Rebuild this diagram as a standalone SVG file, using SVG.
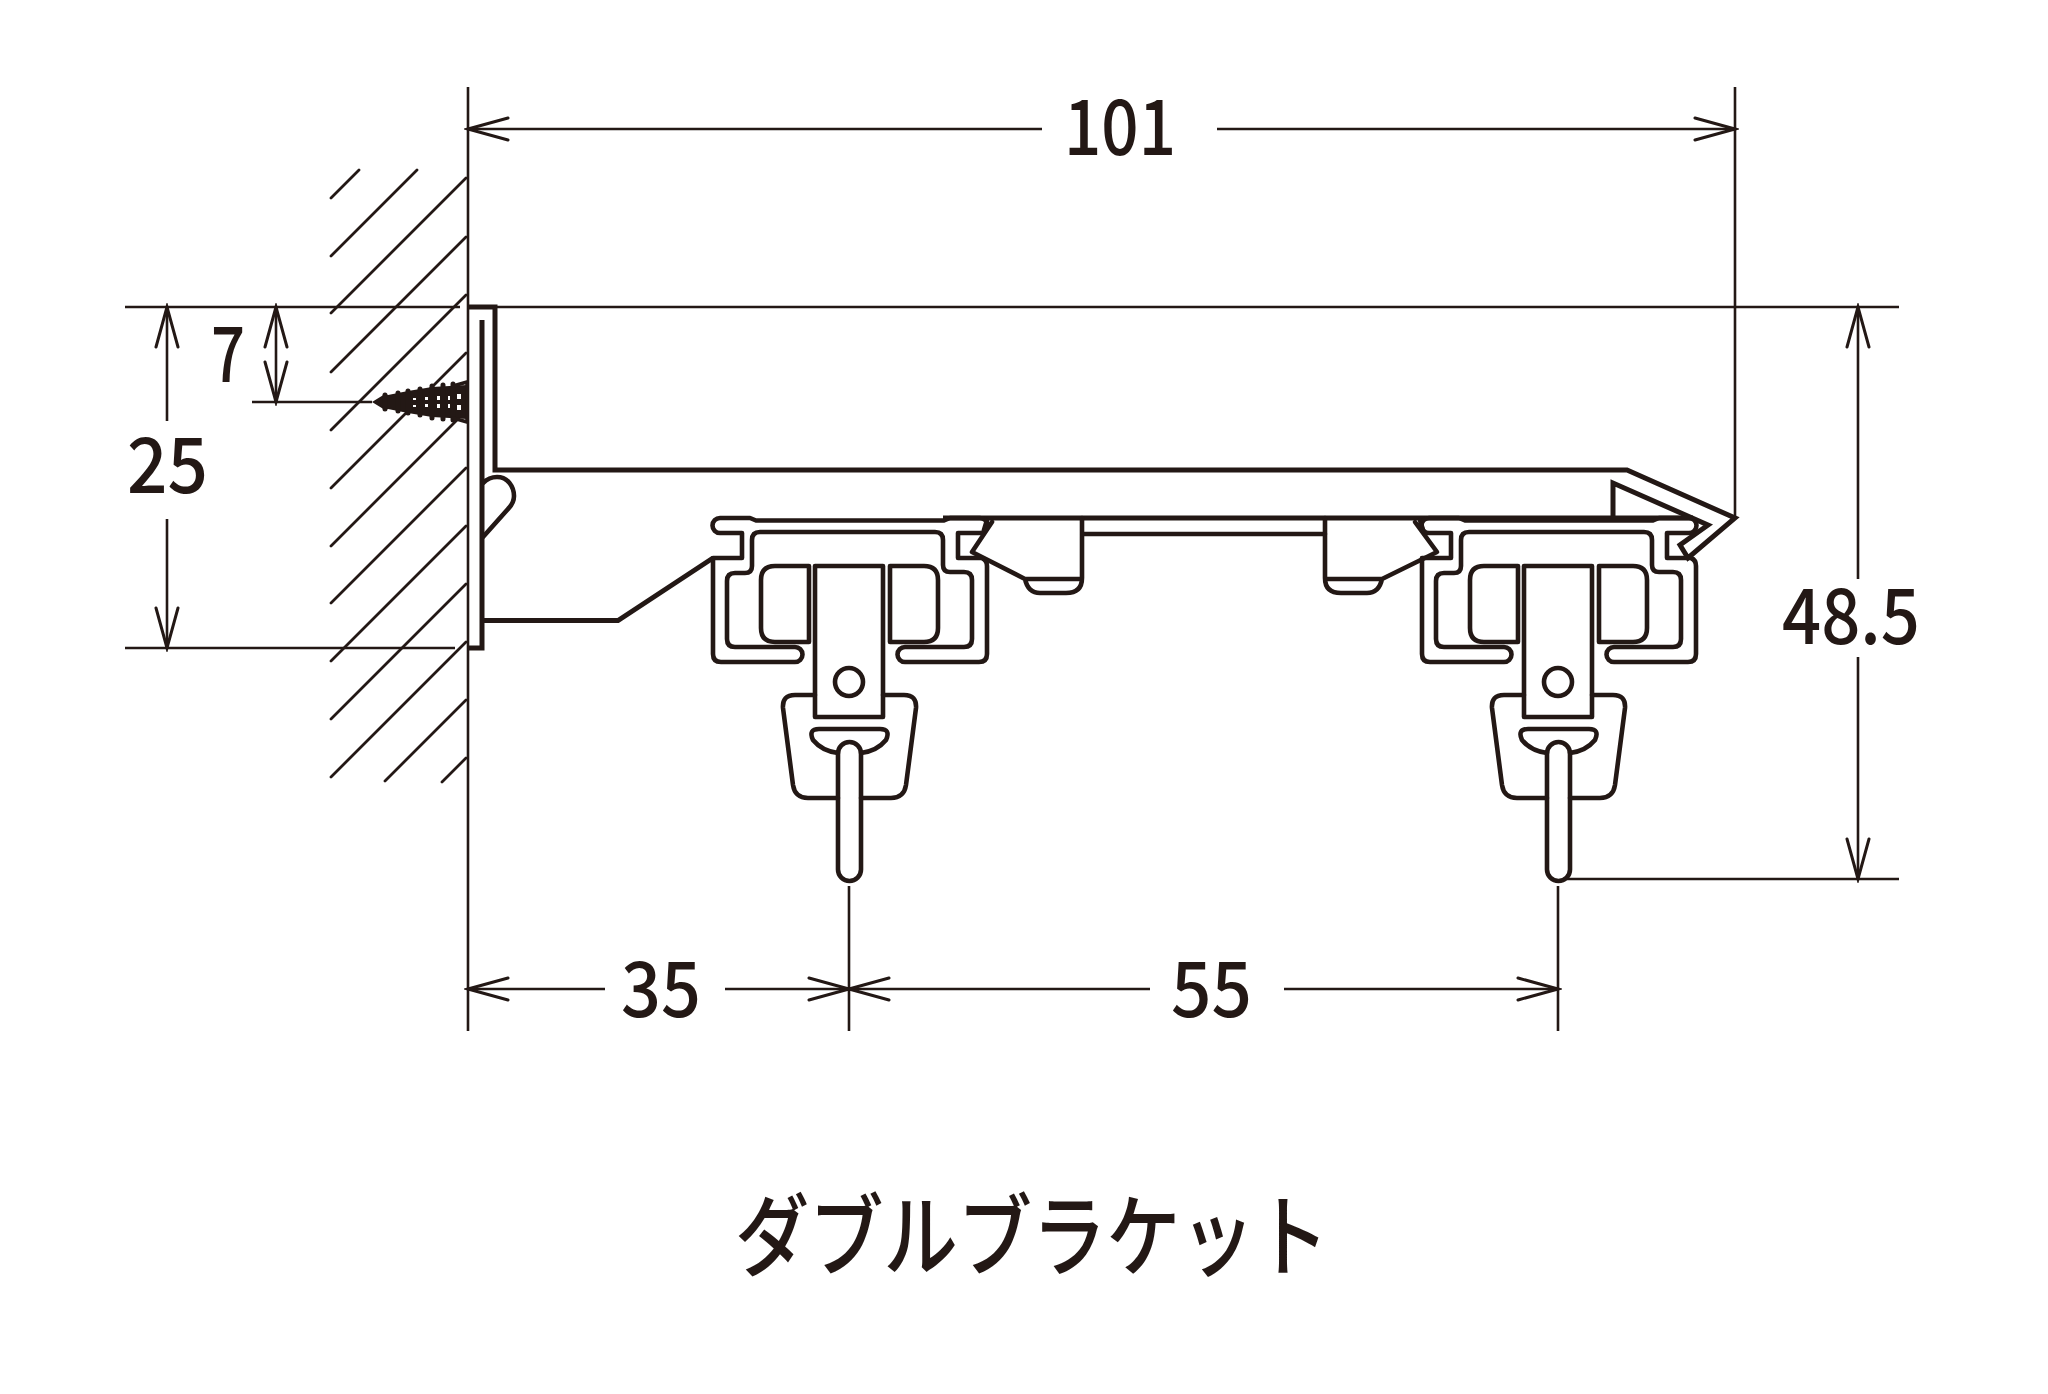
<svg xmlns="http://www.w3.org/2000/svg" xmlns:xlink="http://www.w3.org/1999/xlink" width="2048" height="1394" viewBox="0 0 2048 1394">
<style>
.bg{fill:#fff}
.t{font-family:"Noto Sans CJK JP","Liberation Sans",sans-serif;fill:#231815;text-anchor:start;font-weight:500}
.d{fill:none;stroke:#231815;stroke-width:2.6}
.a{marker-start:url(#arr);marker-end:url(#arr)}
.h{fill:none;stroke:#231815;stroke-width:2.8;stroke-linecap:round}
.s{fill:none;stroke:#231815;stroke-width:4.6;stroke-linejoin:round;stroke-linecap:round}
.b{fill:none;stroke:#231815;stroke-width:5;stroke-linejoin:miter;stroke-linecap:butt}
</style>
<defs>
<marker id="arr" markerUnits="userSpaceOnUse" markerWidth="46" markerHeight="30" refX="0" refY="0" viewBox="-42 -15 46 30" orient="auto-start-reverse">
<path d="M-40,-11 L0,0 L-40,11" fill="none" stroke="#231815" stroke-width="3" stroke-linecap="round"/>
</marker>
<g id="track">
<path class="s" d="M742,558 H713 V654 Q713,662 721,662 H795 A7.5 7.5 0 0 0 795,647 H735 Q727,647 727,639 V581 Q727,573 735,573 H745 Q752,573 752,566 V540 Q752,532 760,532 H935 Q943,532 943,540 V565 Q943,572 950,572 H964 Q972,572 972,580 V639 Q972,647 964,647 H905 A7.5 7.5 0 0 0 905,662 H979 Q987,662 987,654 V566 Q987,560 982,558 H958 V533 H980 A7.5 7.5 0 0 0 980,518 H950 L944,520.5 H756 L750,518 H720 A7.5 7.5 0 0 0 720,533 H742 Z"/>
<path class="s" d="M809,566 V642 H775 Q761,642 761,628 V580 Q761,566 775,566 Z"/>
<path class="s" d="M890,566 V642 H924 Q938,642 938,628 V580 Q938,566 924,566 Z"/>
<path class="s" d="M815,695 H795 Q782,695 783,708 L793,785 Q795,798 808,798 H838"/>
<path class="s" d="M883,695 H904 Q917,695 916,708 L906,785 Q904,798 891,798 H861"/>
<rect class="s" x="815" y="566" width="68" height="151"/>
<circle class="s" cx="849" cy="682" r="14"/>
<path class="s" d="M838,753 Q822,751 813,740 Q808,729 819,729 H880 Q891,729 886,740 Q877,751 861,753"/>
<rect class="s" x="838" y="742" width="23" height="139" rx="11.5"/>
</g>
</defs>
<rect class="bg" width="2048" height="1394"/>
<g id="wall-hatch">
<path class="h" d="M331,198 L359,170 M331,256 L417,170 M331,313 L466,178 M331,372 L466,237 M331,430 L466,295 M331,488 L466,353 M331,546 L457,420 M331,603 L466,468 M331,661 L466,526 M331,719 L466,584 M331,777 L466,642 M385,781 L466,700 M442,782 L466,758"/>
</g>
<g id="connectors">
<path class="d" d="M468,87 V1031 M1735,87 V518 M849,886 V1031 M1558,886 V1031"/>
<path class="d" d="M125,307 H460 M495,307 H1899 M125,648 H455 M252,402 H372 M1567,879 H1899"/>
<path class="d" d="M468,129 H1042" marker-start="url(#arr)"/>
<path class="d" d="M1217,129 H1735" marker-end="url(#arr)"/>
<path class="d" d="M167,307 V421" marker-start="url(#arr)"/>
<path class="d" d="M167,519 V648" marker-end="url(#arr)"/>
<path class="d a" d="M276,307 V402"/>
<path class="d" d="M1858,307 V579" marker-start="url(#arr)"/>
<path class="d" d="M1858,657 V879" marker-end="url(#arr)"/>
<path class="d" d="M468,989 H605" marker-start="url(#arr)"/>
<path class="d" d="M725,989 H849" marker-end="url(#arr)"/>
<path class="d" d="M849,989 H1150" marker-start="url(#arr)"/>
<path class="d" d="M1284,989 H1558" marker-end="url(#arr)"/>
</g>
<g id="bracket">
<path class="b" d="M468,307 H495 V470 H1627 L1735,518 L1688,558 L1680,545 L1708,525 L1613,483 V518"/>
<path class="b" d="M482,320 V648 H468 M482,620.5 H618 L713,558"/>
<path class="s" d="M483,483 Q489,477 497,477 C508,477 514,487 514,496 C514,502 511,506 508,509 L483,537"/>
<path class="b" d="M943,518 H1693"/>
</g>
<g id="hangers">
<path class="s" d="M1082,518 V578 Q1082,593 1066,593 H1040 Q1028,593 1025,579 L972,552 L992,522 M987,520 L984,530 M1025,579 H1082 M1082,534 H1325"/>
<path class="s" d="M1325,518 V578 Q1325,593 1341,593 H1367 Q1379,593 1382,579 L1437,552 L1415,522 M1420,520 L1423,530 M1382,579 H1325"/>
</g>
<g id="runner-left"><use href="#track" xlink:href="#track"/></g>
<g id="runner-right"><use href="#track" xlink:href="#track" x="709"/></g>
<g id="screw">
<path fill="#231815" d="M372,402 L385,394 L388,395 L398,393 L408,391 L420,389 L432,387 L467,385 V419 L432,417 L420,415 L408,413 L398,411 L388,409 L385,410 Z"/>
<path fill="none" stroke="#231815" stroke-width="5" stroke-linecap="round" d="M385,395 V409 M398,393 V411 M408,391 V413 M420,389 V415 M432,386 V418 M443,385 V419 M453,384 V420"/>
<path fill="none" stroke="#231815" stroke-width="3.4" stroke-linecap="round" d="M467,382 V422 M453,386 L467,382 M453,418 L467,422"/>
<path fill="#fff" d="M413,398 h3 v2 h-3z M413,405 h3 v2 h-3z M425,397 h3 v3 h-3z M425,404 h3 v3 h-3z M437,396 h3 v4 h-3z M437,404 h3 v4 h-3z M448,396 h2 v4 h-2z M448,404 h2 v4 h-2z M457,394 h4 v5 h-4z M457,405 h4 v5 h-4z"/>
</g>
<g id="labels">
<text class="t" x="1064" y="155" font-size="77" textLength="112" lengthAdjust="spacingAndGlyphs">101</text>
<text class="t" x="211" y="382" font-size="77" textLength="34" lengthAdjust="spacingAndGlyphs">7</text>
<text class="t" x="127" y="493" font-size="77" textLength="81" lengthAdjust="spacingAndGlyphs">25</text>
<text class="t" x="1782" y="644" font-size="77" textLength="138" lengthAdjust="spacingAndGlyphs">48.5</text>
<text class="t" x="621" y="1017" font-size="77" textLength="80" lengthAdjust="spacingAndGlyphs">35</text>
<text class="t" x="1171" y="1017" font-size="77" textLength="81" lengthAdjust="spacingAndGlyphs">55</text>
<text class="t" x="735" y="1269" font-size="90" textLength="594" lengthAdjust="spacingAndGlyphs">ダブルブラケット</text>
</g>
</svg>
